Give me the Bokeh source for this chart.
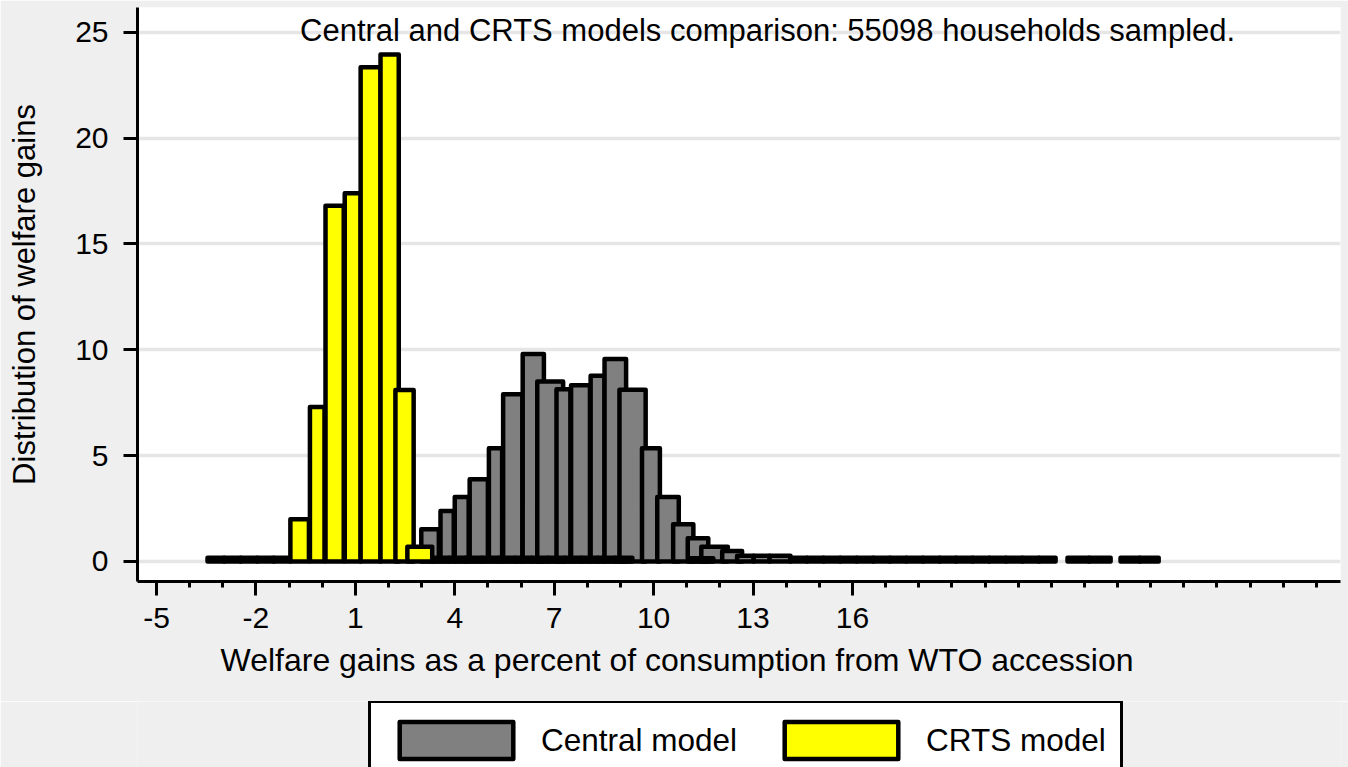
import math
from bokeh.plotting import figure
from bokeh.layouts import column
from bokeh.models import (ColumnDataSource, FixedTicker, Range1d, Label, Legend,
                          LegendItem, Title)
from bokeh.embed import file_html
from bokeh.resources import INLINE

# ---------------- data ----------------
title_text = "Central and CRTS models comparison: 55098 households sampled."
x_title = "Welfare gains as a percent of consumption from WTO accession"
y_title = "Distribution of welfare gains"
series_names = ["Central model", "CRTS model"]

# Central model bars: left edge, right edge (percent of consumption), height
central_left = [2.99, 3.57, 4.00, 4.45, 5.03, 5.46, 6.05, 6.49, 7.07, 7.51, 8.10,
                8.52, 8.97, 9.65, 10.11, 10.59, 11.03, 11.44, 12.07, 12.52, 13.02,
                13.50, 14.13, 14.63, 15.13, 15.63, 16.13, 16.63, 17.13, 17.63, 18.13,
                18.63, 19.13, 19.63, 20.13, 20.63, 21.13, 21.63, 22.49, 23.14, 24.09,
                24.67]
central_right = [3.52, 3.97, 4.42, 5.00, 5.43, 6.04, 6.69, 7.27, 7.49, 8.08, 8.52,
                 9.17, 9.76, 10.19, 10.76, 11.20, 11.65, 12.24, 12.67, 13.02, 13.50,
                 14.13, 14.63, 15.13, 15.63, 16.13, 16.63, 17.13, 17.63, 18.13, 18.63,
                 19.13, 19.63, 20.13, 20.63, 21.13, 21.63, 22.13, 23.14, 23.79, 24.67,
                 25.24]
central_height = [1.52, 2.39, 3.05, 3.89, 5.35, 7.90, 9.80, 8.50, 8.14, 8.33, 8.77,
                  9.56, 8.11, 5.35, 3.05, 1.76, 1.10, 0.70, 0.50, 0.27, 0.27,
                  0.27, 0.18, 0.18, 0.18, 0.18, 0.18, 0.18, 0.18, 0.18, 0.18,
                  0.18, 0.18, 0.18, 0.18, 0.18, 0.18, 0.18, 0.18, 0.18, 0.18,
                  0.18]

# CRTS model bars
crts_left = [-3.46, -2.96, -2.46, -1.96, -1.46, -0.96, -0.37, 0.10, 0.68, 1.16,
             1.76, 2.21, 2.57, 3.32, 3.82, 4.32, 4.82, 5.32, 5.82, 6.32, 6.82,
             7.32, 7.82, 8.32, 8.84, 11.11]
crts_right = [-2.96, -2.46, -1.96, -1.46, -0.96, -0.40, 0.07, 0.65, 1.16, 1.76,
              2.31, 2.76, 3.32, 3.82, 4.32, 4.82, 5.32, 5.82, 6.32, 6.82, 7.32,
              7.82, 8.32, 8.84, 9.36, 11.80]
crts_height = [0.18, 0.18, 0.18, 0.18, 0.18, 2.00, 7.30, 16.80, 17.40, 23.35,
               23.95, 8.10, 0.70, 0.18, 0.18, 0.18, 0.18, 0.18, 0.18, 0.18, 0.18,
               0.18, 0.18, 0.18, 0.18, 0.15]

x_major_ticks = [-5, -2, 1, 4, 7, 10, 13, 16]
x_tick_labels = ["-5", "-2", "1", "4", "7", "10", "13", "16"]
x_minor_ticks = [-5, -4, -3, -2, -1, 0, 1, 2, 3, 4, 5, 6, 7, 8, 9, 10, 11, 12, 13,
                 14, 15, 16, 17, 18, 19, 20, 21, 22, 23, 24, 25, 26, 27, 28, 29, 30]
y_major_ticks = [0, 5, 10, 15, 20, 25]

# ---------------- styling ----------------
FONT = "Liberation Sans"
GRAY = "#808080"
YELLOW = "#ffff00"
PAGE_BG = "#efefef"
W = 1348
H_MAIN = 701
H_LEG = 767 - H_MAIN
BAR_STYLE = dict(line_color="black", line_width=4.5, line_join="round")

p = figure(width=W, height=H_MAIN, output_backend="svg", toolbar_location=None,
           x_range=Range1d(-5.573, 30.727), y_range=Range1d(-0.945, 26.17),
           min_border_left=137, min_border_right=8, min_border_top=7,
           min_border_bottom=H_MAIN - 581)
p.background_fill_color = "white"
p.border_fill_color = PAGE_BG
p.outline_line_color = None

src_c = ColumnDataSource(dict(left=central_left, right=central_right,
                              top=central_height, bottom=[0] * len(central_height)))
src_y = ColumnDataSource(dict(left=crts_left, right=crts_right,
                              top=crts_height, bottom=[0] * len(crts_height)))

r_c = p.quad(left="left", right="right", top="top", bottom="bottom", source=src_c,
             fill_color=GRAY, **BAR_STYLE)
r_y = p.quad(left="left", right="right", top="top", bottom="bottom", source=src_y,
             fill_color=YELLOW, **BAR_STYLE)

# axes
p.xaxis.ticker = FixedTicker(ticks=x_major_ticks, minor_ticks=x_minor_ticks)
p.xaxis.major_label_overrides = dict(zip(x_major_ticks, x_tick_labels))
p.yaxis.ticker = FixedTicker(ticks=y_major_ticks, minor_ticks=[])
for ax in (p.xaxis[0], p.yaxis[0]):
    ax.axis_line_width = 3
    ax.axis_line_color = "black"
    ax.major_tick_line_width = 3
    ax.major_tick_line_color = "black"
    ax.minor_tick_line_width = 3
    ax.minor_tick_line_color = "black"
    ax.major_tick_in = 0
    ax.minor_tick_in = 0
    ax.major_tick_out = 14
    ax.minor_tick_out = 6
    ax.major_label_text_font = FONT
    ax.major_label_text_font_size = "30px"
    ax.major_label_text_color = "black"
p.yaxis.minor_tick_line_color = None
p.xaxis.major_label_standoff = 12
p.yaxis.major_label_standoff = 15

# y axis title
p.yaxis.axis_label = y_title
p.yaxis.axis_label_text_font = FONT
p.yaxis.axis_label_text_font_size = "31px"
p.yaxis.axis_label_text_font_style = "normal"
p.yaxis.axis_label_text_color = "black"
p.yaxis.axis_label_standoff = 30

p.xgrid.visible = False
p.ygrid.grid_line_color = "#e6e6e6"
p.ygrid.grid_line_width = 3.5

# chart title, kept just inside the top of the plotting area so it stays visible
p.add_layout(Label(x=13.44, y=25.08, text=title_text, text_font=FONT,
                   text_font_size="31px", text_color="black",
                   text_align="center", text_baseline="alphabetic"))

# x axis title (placed left of centre, as in the reference)
p.add_layout(Title(text=x_title, align="left", offset=83, standoff=22,
                   vertical_align="top",
                   text_font=FONT, text_font_size="32px",
                   text_font_style="normal", text_color="black"), "below")

# ---------------- legend strip under the chart ----------------
# same data sources, viewed through ranges that exclude them: only the key shows
pl = figure(width=W, height=H_LEG, output_backend="svg", toolbar_location=None,
            x_range=Range1d(-100, -99), y_range=Range1d(-100, -99),
            x_axis_location=None, y_axis_location=None,
            min_border_left=137, min_border_right=8, min_border_top=0,
            min_border_bottom=0)
pl.background_fill_color = PAGE_BG
pl.border_fill_color = PAGE_BG
pl.outline_line_color = None
pl.grid.visible = False
lc = pl.quad(left="left", right="right", top="top", bottom="bottom",
             source=src_c, fill_color=GRAY, **BAR_STYLE)
ly = pl.quad(left="left", right="right", top="top", bottom="bottom",
             source=src_y, fill_color=YELLOW, **BAR_STYLE)

legend = Legend(items=[LegendItem(label=series_names[0], renderers=[lc]),
                       LegendItem(label=series_names[1], renderers=[ly])],
                location=(231, -13), orientation="horizontal",
                glyph_width=142, glyph_height=46, label_standoff=14, spacing=33,
                padding=14, margin=0,
                border_line_color="black", border_line_width=3.5,
                border_line_alpha=1.0,
                background_fill_color="white", background_fill_alpha=1.0,
                label_text_font=FONT, label_text_font_size="31.5px",
                label_text_color="black")
pl.add_layout(legend)

layout = column(p, pl, spacing=0)
open("out.html", "w").write(file_html(layout, INLINE))
